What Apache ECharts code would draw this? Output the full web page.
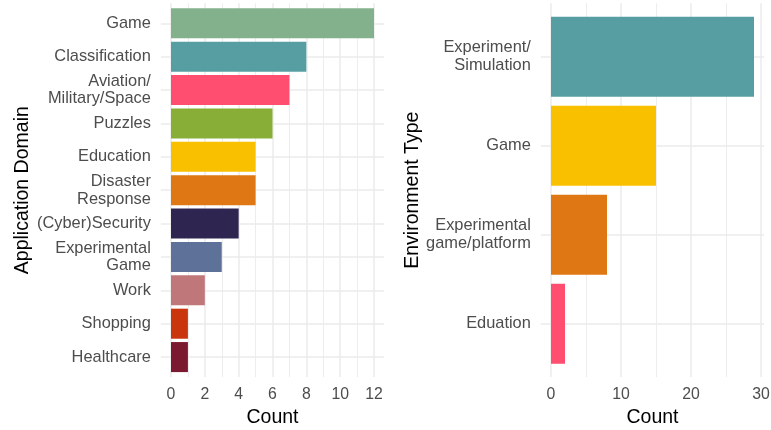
<!DOCTYPE html>
<html>
<head>
<meta charset="utf-8">
<script src="https://cdn.jsdelivr.net/npm/echarts@6/dist/echarts.min.js"></script>
<style>
html,body{margin:0;padding:0;background:#fff;}
#chart{width:771px;height:430px;}
</style>
</head>
<body>
<div id="chart"></div>
<script>
// ---- data ----
const domainCategories = ['Game', 'Classification', 'Aviation/\nMilitary/Space', 'Puzzles', 'Education',
  'Disaster\nResponse', '(Cyber)Security', 'Experimental\nGame', 'Work', 'Shopping', 'Healthcare'];
const domainCounts = [12, 8, 7, 6, 5, 5, 4, 3, 2, 1, 1];
const domainTicks = [0, 2, 4, 6, 8, 10, 12];
const domainMinorTicks = [1, 3, 5, 7, 9, 11];

const envCategories = ['Experiment/\nSimulation', 'Game', 'Experimental\ngame/platform', 'Eduation'];
const envCounts = [29, 15, 8, 2];
const envTicks = [0, 10, 20, 30];
const envMinorTicks = [5, 15, 25];

// ---- styles ----
const domainColors = ['#83B18C', '#579EA3', '#FF4E6F', '#88AE38', '#F9C000', '#E07715',
  '#2E2651', '#5D7199', '#C0777A', '#C9350C', '#7B1930'];
const envColors = ['#579EA3', '#F9C000', '#E07715', '#FF4E6F'];

const FONT = '"Liberation Sans", Arial, Helvetica, sans-serif';
const GRID_COLOR = '#EBEBEB';

function indexList(n) { const a = []; for (let i = 0; i < n; i++) a.push(i); return a; }

function barRender(params, api) {
  const v = api.value(0), i = api.value(1);
  const s = api.coord([0, i]);
  const e = api.coord([v, i]);
  const h = api.size([0, 1])[1] * 0.9;
  return {
    type: 'rect',
    shape: { x: s[0], y: s[1] - h / 2, width: e[0] - s[0], height: h },
    style: { fill: api.visual('color') }
  };
}

function xAxes(gridIndex, ticks, minorTicks, min, max) {
  return [
    {
      type: 'value', gridIndex: gridIndex, min: min, max: max, position: 'bottom',
      axisLine: { show: false },
      axisTick: { show: false, customValues: ticks },
      axisLabel: { customValues: ticks, color: '#4D4D4D', fontSize: 15.8, fontFamily: FONT, margin: 10 },
      splitLine: { show: true, lineStyle: { color: GRID_COLOR, width: 1.5 } },
      name: 'Count', nameLocation: 'middle', nameGap: 31,
      nameTextStyle: { color: '#000', fontSize: 19.5, fontFamily: FONT }
    },
    {
      type: 'value', gridIndex: gridIndex, min: min, max: max, position: 'bottom',
      axisLine: { show: false },
      axisTick: { show: false, customValues: minorTicks },
      axisLabel: { show: false },
      splitLine: { show: true, lineStyle: { color: GRID_COLOR, width: 0.9 } }
    }
  ];
}

function yAxis(gridIndex, cats, name, nameGap) {
  const idx = indexList(cats.length);
  return {
    type: 'value', gridIndex: gridIndex, inverse: true,
    min: -0.6, max: cats.length - 1 + 0.6,
    axisLine: { show: false },
    axisTick: { show: false, customValues: idx },
    axisLabel: {
      customValues: idx, color: '#4D4D4D', fontSize: 16.4, fontFamily: FONT, margin: 10,
      lineHeight: 17.6, align: 'right', padding: [6, 0, 0, 0],
      formatter: function (v) { return cats[Math.round(v)]; }
    },
    splitLine: { show: true, lineStyle: { color: GRID_COLOR, width: 1.5 } },
    name: name, nameLocation: 'middle', nameGap: nameGap,
    nameTextStyle: { color: '#000', fontSize: 19.5, fontFamily: FONT }
  };
}

function seriesData(counts, colors) {
  return counts.map(function (c, i) { return { value: [c, i], itemStyle: { color: colors[i] } }; });
}

const chart = echarts.init(document.getElementById('chart'), null, { renderer: 'canvas' });
chart.setOption({
  animation: false,
  backgroundColor: '#fff',
  grid: [
    { left: 160.85, width: 223.3, top: 3.3, height: 373.8, outerBoundsMode: 'none', containLabel: false },
    { left: 540.85, width: 223.3, top: 3.3, height: 373.8, outerBoundsMode: 'none', containLabel: false }
  ],
  xAxis: xAxes(0, domainTicks, domainMinorTicks, -0.6, 12.6)
    .concat(xAxes(1, envTicks, envMinorTicks, -1.45, 30.45)),
  yAxis: [
    yAxis(0, domainCategories, 'Application Domain', 127.5),
    yAxis(1, envCategories, 'Environment Type', 111)
  ],
  series: [
    { type: 'custom', xAxisIndex: 0, yAxisIndex: 0, renderItem: barRender,
      encode: { x: 0, y: 1 }, data: seriesData(domainCounts, domainColors) },
    { type: 'custom', xAxisIndex: 2, yAxisIndex: 1, renderItem: barRender,
      encode: { x: 0, y: 1 }, data: seriesData(envCounts, envColors) }
  ]
});
</script>
</body>
</html>
